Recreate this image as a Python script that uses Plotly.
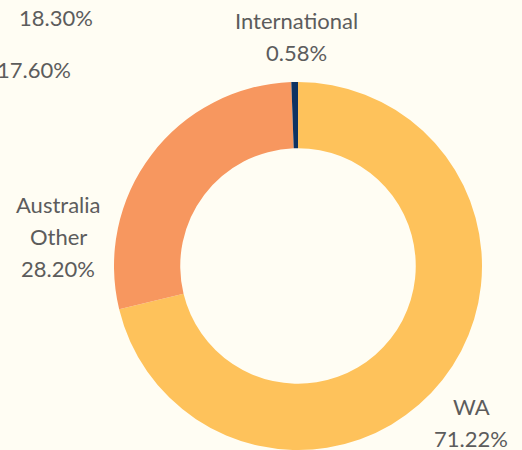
import plotly.graph_objects as go

categories = ["WA", "Australia Other", "International"]
values = [71.22, 28.20, 0.58]
colors = ["#FEC25B", "#F7975F", "#0E3262"]
label_lines = [["WA", "71.22%"], ["Australia", "Other", "28.20%"], ["International", "0.58%"]]
label_pos = [(471, 406), (58, 204), (296, 21)]  # pixel centre of first line
stray_text = ["18.30%", "17.60%"]
stray_pos = [(56, 17), (34, 69)]

W, H = 522, 450
BG = "#FFFDF3"
FONT = "Lato"
TXT = "#5C5C5C"
FS = 22
LINE = 32

fig = go.Figure()
fig.add_trace(go.Pie(
    labels=categories,
    values=values,
    marker=dict(colors=colors, line=dict(width=0)),
    hole=0.64,
    sort=False,
    direction="clockwise",
    rotation=0,
    textinfo="none",
    hoverinfo="label+percent",
    showlegend=False,
    domain=dict(x=[114 / W, 482 / W], y=[0, 368 / H]),
))

def add_text(t, x, y):
    fig.add_annotation(x=x / W, y=1 - y / H, xref="paper", yref="paper",
                       text=t, showarrow=False, xanchor="center", yanchor="middle",
                       font=dict(family=FONT, size=FS, color=TXT))

for lines, (x, y) in zip(label_lines, label_pos):
    for i, t in enumerate(lines):
        add_text(t, x, y + i * LINE)
for t, (x, y) in zip(stray_text, stray_pos):
    add_text(t, x, y)

fig.update_layout(
    width=W, height=H,
    margin=dict(l=0, r=0, t=0, b=0),
    paper_bgcolor=BG, plot_bgcolor=BG,
)
fig.write_html("out.html", config={"displayModeBar": False},
               post_script="document.body.style.margin='0';document.body.style.background='" + BG + "';")
